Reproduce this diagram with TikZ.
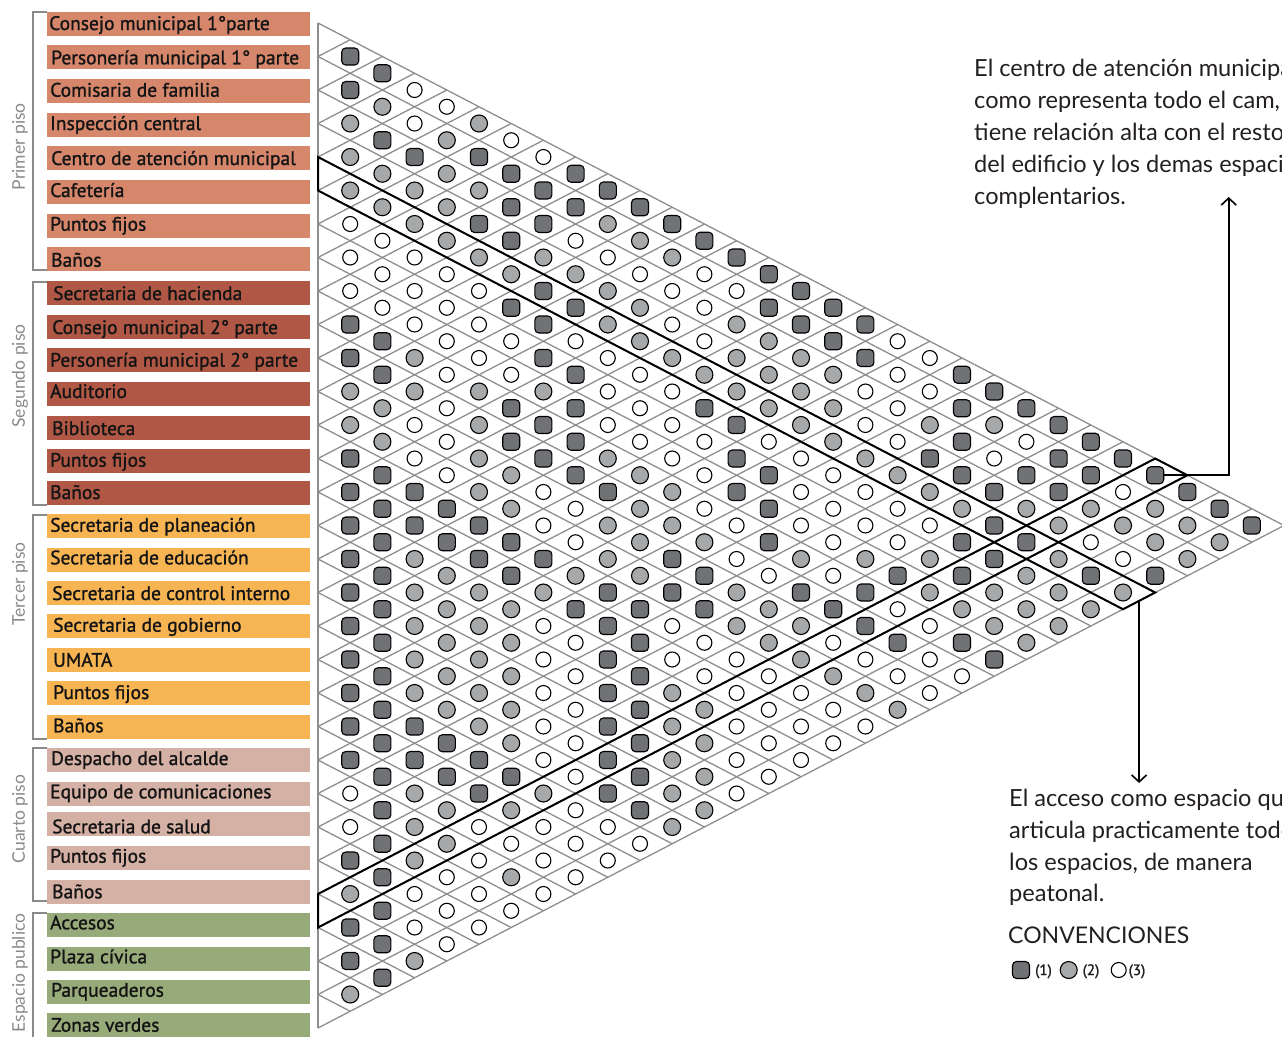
\documentclass[tikz,border=0pt]{standalone}
\usepackage{fontspec}
\setmainfont{Lato}
\newfontfamily\labfont[FakeBold=1.2]{PT Sans}
\newfontfamily\legfont[FakeBold=1.5]{PT Sans}
\usetikzlibrary{arrows.meta}
\definecolor{cdark}{HTML}{707275}
\definecolor{clight}{HTML}{A6A8A9}
\definecolor{cgrid}{HTML}{8E8E8E}
\definecolor{cprim}{HTML}{D5866B}
\definecolor{cseg}{HTML}{B05845}
\definecolor{cter}{HTML}{F6B453}
\definecolor{ccua}{HTML}{D4B0A5}
\definecolor{cesp}{HTML}{97AA7A}
\definecolor{ctext}{HTML}{141414}
\definecolor{cfloor}{HTML}{8A8A8A}
\definecolor{cnote}{HTML}{231F20}
\begin{document}
\begin{tikzpicture}[x=1pt,y=-1pt,
  gridline/.style={draw=cgrid, line width=1.3pt},
  bandline/.style={draw=black, line width=2pt, line join=miter},
  cell1/.style={shape=rectangle, draw=black, line width=1.1pt, fill=cdark, rounded corners=4pt, minimum size=17pt, inner sep=0pt},
  cell2/.style={circle, draw=black, line width=1.1pt, fill=clight, minimum size=17pt, inner sep=0pt},
  cell3/.style={circle, draw=black, line width=1.1pt, fill=white, minimum size=15pt, inner sep=0pt},
  labtxt/.style={anchor=base west, inner sep=0pt, font=\labfont\fontsize{19.5}{20}\selectfont, text=ctext},
  floorlab/.style={rotate=90, inner sep=0pt, font=\fontsize{17.5}{18}\selectfont, text=cfloor},
  notetxt/.style={anchor=base west, inner sep=0pt, font=\fontsize{23.6}{28}\selectfont, text=cnote},
  brk/.style={draw=cfloor, line width=2pt},
  arrowline/.style={draw=black, line width=2pt, -{Straight Barb[length=7pt,width=15pt,line width=1.6pt]}},
  legtxt/.style={anchor=base west, inner sep=0pt, font=\legfont\fontsize{15}{16}\selectfont, text=cnote}
]
\useasboundingbox (0,0) rectangle (1282,1036);

% label bars and texts
\foreach \bt/\bb/\bx/\btx/\bc [count=\i] in {
 11.7/30/49/Consejo municipal 1°parte/cprim,
 45/64.3/51/Personería municipal 1° parte/cprim,
 79/96.7/50/Comisaria de familia/cprim,
 113/130/50/Inspección central/cprim,
 146/165/51/Centro de atención municipal/cprim,
 180/197/50/Cafetería/cprim,
 214/230.7/50/Puntos fijos/cprim,
 247/266.7/51/Baños/cprim,
 281/300/53/Secretaria de hacienda/cseg,
 315/334/52/Consejo municipal 2° parte/cseg,
 348/366.7/50/Personería municipal 2° parte/cseg,
 382/398/50/Auditorio/cseg,
 416/435/52/Biblioteca/cseg,
 449/466.7/50/Puntos fijos/cseg,
 481/499/50/Baños/cseg,
 514/531.7/50/Secretaria de planeación/cter,
 548/564.3/50/Secretaria de educación/cter,
 581/600/52/Secretaria de control interno/cter,
 614/631.7/53/Secretaria de gobierno/cter,
 648/666.7/53/UMATA/cter,
 681/699/53/Puntos fijos/cter,
 715/732.3/53/Baños/cter,
 748/765/51/Despacho del alcalde/ccua,
 782/798.3/50/Equipo de comunicaciones/ccua,
 812/833.3/52/Secretaria de salud/ccua,
 846/862.7/50/Puntos fijos/ccua,
 880/898.3/52/Baños/ccua,
 913/929.3/50/Accesos/cesp,
 947/963.3/50/Plaza cívica/cesp,
 980/996.7/51/Parqueaderos/cesp,
 1013/1031.7/51/Zonas verdes/cesp} {
  \fill[\bc] (47,\bt) rectangle (310,\bt+24);
  \node[labtxt] (lab\i) at (\bx,\bb) {\btx};
}

% floor brackets
\draw[brk] (47,12) -- (33,12) -- (33,270) -- (47,270);
\draw[brk] (47,282) -- (33,282) -- (33,505) -- (47,505);
\draw[brk] (47,514.7) -- (33,514.7) -- (33,738.7) -- (47,738.7);
\draw[brk] (47,748) -- (33,748) -- (33,900.7) -- (47,900.7);
\draw[brk] (47,913) -- (33,913) -- (33,1040);

\node[floorlab] (fl1) at (20,146.7) {Primer piso};
\node[floorlab] (fl2) at (20,376) {Segundo piso};
\node[floorlab] (fl3) at (20,584) {Tercer piso};
\node[floorlab] (fl4) at (20,819) {Cuarto piso};
\node[floorlab] (fl5) at (20,973) {Espacio publico};

\coordinate (topend) at (1228.7,197);
\coordinate (botend) at (1139,783);

% matrix
\begin{scope}[shift={(318,23)}, x={(32.2pt,0pt)}, y={(0pt,-16.75pt)}]
  \foreach \m in {1,...,29} {
    \draw[gridline] (0,{2*\m}) -- ({30-\m},{30+\m});
    \draw[gridline] (0,{2*\m}) -- (\m,\m);
  }
  \draw[gridline] (0,0) -- (30,30) -- (0,60);
  \draw[draw=cgrid, line width=2.6pt] (0,0) -- (0,60);
  \draw[bandline] (0,8) -- (26,34) -- (25,35) -- (0,10) -- cycle;
  \draw[bandline] (0,52) -- (26,26) -- (27,27) -- (0,54) -- cycle;
  \coordinate (accend) at (26,27);
  \coordinate (cenend) at (25.5,34.5);
  \draw[arrowline] (accend) -| (topend);
  \draw[arrowline] (cenend) -- (cenend |- botend);
  \foreach \vals [count=\k] in {
   {1,1,2,2,2,3,3,3,1,1,2,2,1,1,1,1,1,1,1,1,1,1,3,3,1,2,1,1,2},
   {1,2,1,2,2,3,3,3,1,1,2,2,1,1,1,1,1,1,1,1,1,1,1,1,1,1,1,1},
   {3,3,1,2,2,3,3,3,2,2,3,3,1,1,2,2,2,2,2,1,1,2,2,2,3,3,2},
   {3,2,2,2,2,3,3,3,3,3,3,3,1,1,2,2,2,2,2,1,1,2,2,3,3,3},
   {2,1,2,1,2,3,3,3,2,2,2,2,1,1,2,2,2,2,2,1,1,3,3,3,3},
   {3,1,1,1,2,1,3,3,1,1,2,2,1,1,2,2,2,2,2,1,2,3,2,3},
   {3,1,1,2,1,1,1,2,1,1,3,3,1,2,3,3,3,3,3,2,3,3,3},
   {1,1,3,2,1,3,1,1,1,1,3,3,2,1,3,3,3,3,3,3,3,3},
   {1,2,3,2,2,3,3,3,2,1,2,2,1,1,1,1,1,1,1,3,3},
   {1,2,3,2,2,3,3,3,2,2,2,2,1,1,1,1,1,1,1,3},
   {1,2,3,3,2,3,3,3,2,2,1,1,3,3,2,2,2,2,2},
   {1,3,3,3,2,1,3,3,3,2,1,1,3,3,2,2,2,2},
   {1,3,2,2,2,1,1,1,3,3,2,2,3,3,3,3,3},
   {1,1,2,2,2,3,1,1,1,3,2,2,3,3,3,3},
   {1,1,2,2,2,3,3,3,2,1,2,2,3,3,3},
   {1,1,2,2,2,3,3,3,3,1,3,2,3,3},
   {1,1,3,3,2,3,3,2,1,1,3,2,3},
   {3,3,3,3,2,3,3,1,3,1,3,2},
   {3,3,2,1,2,3,2,2,3,3,3},
   {1,1,1,1,2,1,1,2,1,3},
   {1,2,3,1,1,1,2,2,1},
   {1,3,1,2,1,2,2,2},
   {1,1,1,2,2,2,2},
   {1,1,2,3,1,2},
   {1,3,2,3,2},
   {1,2,2,1},
   {1,2,2},
   {1,2},
   {1}} {
    \foreach \s [count=\ai from 0] in \vals {
      \node[cell\s] (c-\k-\ai) at (\k,{2*\ai+\k+1}) {};
    }
  }
\end{scope}

% notes
\begin{scope}
  \clip (0,0) rectangle (1282,1036);
  \node[notetxt] (n1) at (974,76) {El centro de atención municipal};
  \node[notetxt] (n2) at (974,108) {como representa todo el cam,};
  \node[notetxt] (n3) at (974,140) {tiene relación alta con el resto};
  \node[notetxt] (n4) at (974,172) {del edificio y los demas espacios};
  \node[notetxt] (n5) at (974,204) {complentarios.};
  \node[notetxt] (m1) at (1009,806.7) {El acceso como espacio que};
  \node[notetxt] (m2) at (1009,838.3) {articula practicamente todos};
  \node[notetxt] (m3) at (1009,870) {los espacios, de manera};
  \node[notetxt] (m4) at (1009,901.7) {peatonal.};
\end{scope}

\node[notetxt, font=\fontsize{23}{26}\selectfont] (conv) at (1008,943.3) {CONVENCIONES};
\node[cell1] (lg1) at (1021,970) {};
\node[legtxt] (lg1t) at (1035,975) {(1)};
\node[cell2] (lg2) at (1068.7,970) {};
\node[legtxt] (lg2t) at (1082.5,975) {(2)};
\node[cell3] (lg3) at (1118.7,970) {};
\node[legtxt] (lg3t) at (1128.5,975) {(3)};
\end{tikzpicture}
\end{document}
